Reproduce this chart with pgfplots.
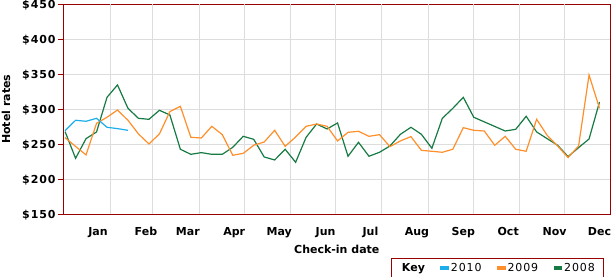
\documentclass[border=0pt]{standalone}
\usepackage{pgfplots}
\pgfplotsset{compat=1.18}
\usepackage{pgfplotstable}
\usepackage{fontspec}
\setmainfont{DejaVu Sans}
\newfontfamily\trackfont{DejaVu Sans}[LetterSpace=8]
\definecolor{axisred}{HTML}{990000}
\definecolor{gridgray}{HTML}{DDDDDD}
\definecolor{cTen}{HTML}{1AAEEA}
\definecolor{cNine}{HTML}{FF8F2B}
\definecolor{cEight}{HTML}{167A43}
\newcommand\sz{\fontsize{11bp}{13bp}\selectfont}

\pgfplotstableread{
x y
0.5 269.5
7.5 284.3
14.5 282.9
21.5 287.1
28.5 274.3
35.5 272.4
42.5 270.0
}\dataTen

\pgfplotstableread{
x y
0.5 259.5
7.5 247.0
14.5 234.8
21.5 280.0
28.5 288.6
35.5 299.0
42.5 284.3
49.5 264.8
56.5 250.5
63.5 264.8
70.5 296.7
77.5 304.3
84.5 260.0
91.5 259.0
98.5 275.7
105.5 263.8
112.5 234.3
119.5 237.1
126.5 248.6
133.5 253.3
140.5 270.0
147.5 247.1
154.5 260.5
161.5 275.7
168.5 279.0
175.5 275.7
182.5 254.8
189.5 267.1
196.5 268.6
203.5 261.4
210.5 263.8
217.5 246.7
224.5 254.8
231.5 261.0
238.5 241.4
245.5 240.0
252.5 238.6
259.5 242.9
266.5 273.8
273.5 270.0
280.5 269.0
287.5 248.6
294.5 261.4
301.5 242.9
308.5 240.0
315.5 285.7
322.5 262.9
329.5 247.6
336.5 231.0
343.5 247.6
350.5 349.0
357.5 301.4
}\dataNine

\pgfplotstableread{
x y
0.5 268.1
7.5 230.0
14.5 258.1
21.5 267.6
28.5 317.1
35.5 334.8
42.5 301.4
49.5 287.1
56.5 285.7
63.5 298.6
70.5 291.9
77.5 242.9
84.5 235.7
91.5 238.1
98.5 235.7
105.5 235.7
112.5 245.7
119.5 261.4
126.5 257.1
133.5 231.9
140.5 227.6
147.5 242.9
154.5 224.3
161.5 260.0
168.5 279.0
175.5 271.9
182.5 280.5
189.5 232.9
196.5 252.9
203.5 232.9
210.5 238.6
217.5 247.6
224.5 264.3
231.5 274.3
238.5 264.3
245.5 244.3
252.5 287.1
259.5 301.4
266.5 317.1
273.5 288.6
294.5 269.0
301.5 271.4
308.5 290.0
315.5 267.6
322.5 258.1
329.5 248.6
336.5 232.4
343.5 245.2
350.5 257.6
357.5 310.5
}\dataEight

\begin{document}
\begin{tikzpicture}
\begin{axis}[
  at={(63.3bp,62.7bp)}, anchor=south west,
  width=547bp, height=210bp, scale only axis,
  xmin=-0.7, xmax=364.7, ymin=150, ymax=450,
  axis line style={axisred, line width=1bp},
  ytick={150,200,250,300,350,400,450},
  ytick pos=left, tick align=outside,
  major tick length=5bp,
  y tick style={axisred, line width=1bp},
  x tick style={draw=none},
  /pgf/number format/assume math mode=true,
  yticklabel={\$\pgfmathprintnumber{\tick}},
  yticklabel style={font=\trackfont\bfseries\sz, anchor=base east, inner sep=0pt, xshift=-2.6bp, yshift=-4bp},
  xtick={22.5,54.5,82.5,113.5,143.5,174.5,204.5,235.5,266.5,296.5,327.5,357.5},
  xticklabels={Jan,Feb,Mar,Apr,May,Jun,Jul,Aug,Sep,Oct,Nov,Dec},
  xticklabel style={font=\bfseries\sz, anchor=base, inner sep=0pt, yshift=-15.7bp},
  extra x ticks={31,59,90,120,151,181,212,243,273,304,334},
  extra x tick labels={},
  extra x tick style={grid=major, major tick length=0pt},
  ymajorgrids=true,
  major grid style={gridgray, line width=0.9bp},
  xlabel={Check-in date},
  xlabel style={at={(axis description cs:0.5,-0.1857)}, anchor=base, inner sep=0pt, font=\bfseries\sz},
  ylabel={Hotel rates},
  ylabel style={at={(axis description cs:-0.113,0.5)}, anchor=north, inner sep=0pt, font=\bfseries\sz},
  legend style={at={(axis description cs:0.5985,-0.2095)}, anchor=north west,
    draw=axisred, line width=1bp, inner xsep=9bp, inner ysep=4.5bp,
    font=\trackfont\sz,
    nodes={inner sep=0pt},
    /tikz/every odd column/.style={column sep=1.8bp},
    /tikz/every even column/.style={column sep=15.5bp}},
  legend columns=-1,
  legend image code/.code={\fill[#1] (0bp,-1.35bp) rectangle (7.7bp,1.35bp);},
]
\addplot[cEight, line width=1.2bp, forget plot] table[x=x,y=y] {\dataEight};
\addplot[cNine, line width=1.2bp, forget plot] table[x=x,y=y] {\dataNine};
\addplot[cTen, line width=1.2bp, forget plot] table[x=x,y=y] {\dataTen};
\addlegendimage{empty legend}
\addlegendentry{{\fontspec{DejaVu Sans}\bfseries\sz Key}\hspace{-3.5bp}}
\addlegendimage{cTen}
\addlegendentry{2010}
\addlegendimage{cNine}
\addlegendentry{2009}
\addlegendimage{cEight}
\addlegendentry{2008\hspace{2bp}}
\end{axis}
\pgfresetboundingbox
\useasboundingbox (0,0) rectangle (612bp,277bp);
\end{tikzpicture}
\end{document}
